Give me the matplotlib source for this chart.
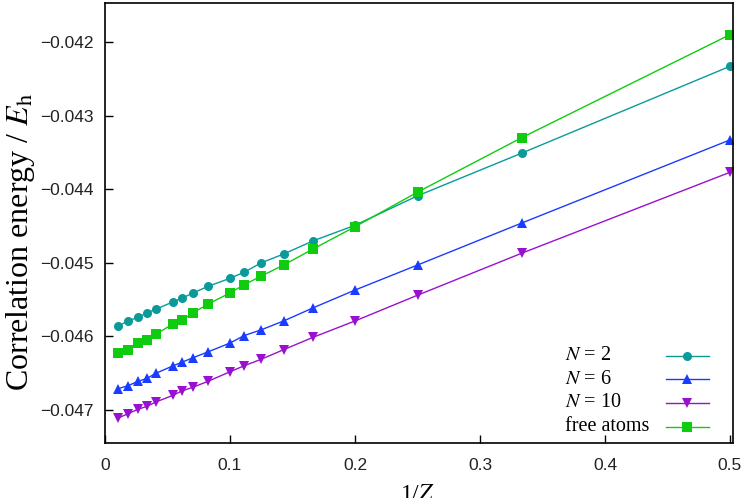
import matplotlib
matplotlib.use("Agg")
import matplotlib.pyplot as plt

plt.rcParams['mathtext.fontset'] = 'stix'

# 1/Z values
inv_z = [0.0104, 0.0184, 0.0264, 0.0336, 0.0408, 0.0544, 0.0616, 0.0704, 0.0824,
         0.1, 0.1111, 0.125, 0.1429, 0.1667, 0.2, 0.25, 0.3333, 0.5]

e_n2 = [-0.04586, -0.04579, -0.04574, -0.04568, -0.04563, -0.04553, -0.04548, -0.04541,
        -0.04532, -0.04521, -0.04513, -0.04500, -0.04488, -0.04470, -0.04449, -0.04409,
        -0.04351, -0.04233]
e_n6 = [-0.04671, -0.04667, -0.04661, -0.04657, -0.04650, -0.04640, -0.04635, -0.04629,
        -0.04621, -0.04609, -0.04599, -0.04591, -0.04579, -0.04561, -0.04537, -0.04503,
        -0.04446, -0.04333]
e_n10 = [-0.04711, -0.04705, -0.04699, -0.04695, -0.04689, -0.04680, -0.04674, -0.04669,
         -0.04661, -0.04648, -0.04640, -0.04631, -0.04618, -0.04601, -0.04579, -0.04544,
         -0.04487, -0.04377]
e_free = [-0.04623, -0.04618, -0.04609, -0.04605, -0.04597, -0.04583, -0.04578, -0.04568,
          -0.04556, -0.04541, -0.04530, -0.04518, -0.04503, -0.04481, -0.04451, -0.04404,
          -0.04330, -0.04190]

labels = ["$N$ = 2", "$N$ = 6", "$N$ = 10", "free atoms"]
series = [e_n2, e_n6, e_n10, e_free]
colors = ["#0a9a9a", "#1a3cff", "#9a10d0", "#10cc10"]
markers = ["o", "^", "v", "s"]
msizes = [6.5, 6.5, 6.5, 6.5]

serif = "Liberation Serif"
sans = "Liberation Sans"

fig = plt.figure(figsize=(7.41, 4.98), dpi=100)
ax = fig.add_axes([105/741, 55/498, 628/741, 440/498])

for y, c, m, ms in zip(series, colors, markers, msizes):
    ax.plot(inv_z, y, color=c, marker=m, markersize=ms, linewidth=1.0,
            markeredgewidth=0)

ax.set_xlim(0, 0.5024)
ax.set_ylim(-0.047448, -0.04147)
ax.set_xticks([0, 0.1, 0.2, 0.3, 0.4, 0.5])
ax.set_xticklabels(["0", "0.1", "0.2", "0.3", "0.4", "0.5"])
ax.set_yticks([-0.047, -0.046, -0.045, -0.044, -0.043, -0.042])
ax.set_yticklabels(["\u22120.047", "\u22120.046", "\u22120.045", "\u22120.044",
                    "\u22120.043", "\u22120.042"])
ax.tick_params(direction="in", length=6, width=1, top=False, right=False,
               labelsize=12.5, labelcolor="#222222", pad=8)
ax.tick_params(axis="x", pad=11)
for lab in ax.get_xticklabels() + ax.get_yticklabels():
    lab.set_fontfamily(sans)
for s in ax.spines.values():
    s.set_linewidth(1.2)

ax.set_ylabel("Correlation energy / $E_{\\mathrm{h}}$", fontfamily=serif, fontsize=23)
ax.yaxis.set_label_coords(-0.109, 0.457)
ax.set_xlabel("1/$Z$", fontfamily=serif, fontsize=17)
ax.xaxis.set_label_coords(0.497, -0.094)
ax.xaxis.label.set_va("top")

# gnuplot-style key: text left, sample on the right
for i, (lab, c, m, ms) in enumerate(zip(labels, colors, markers, msizes)):
    yk = 0.198 - i * 0.0535
    ax.text(0.733, yk, lab, transform=ax.transAxes, fontfamily=serif,
            fontsize=14.5, ha="left", va="center")
    ax.plot([0.893, 0.962], [yk, yk], transform=ax.transAxes, color=c,
            linewidth=1.0, clip_on=False)
    ax.plot([0.9275], [yk], transform=ax.transAxes, color=c, marker=m,
            markersize=ms, markeredgewidth=0, clip_on=False)

fig.savefig("out.png", dpi=100)
